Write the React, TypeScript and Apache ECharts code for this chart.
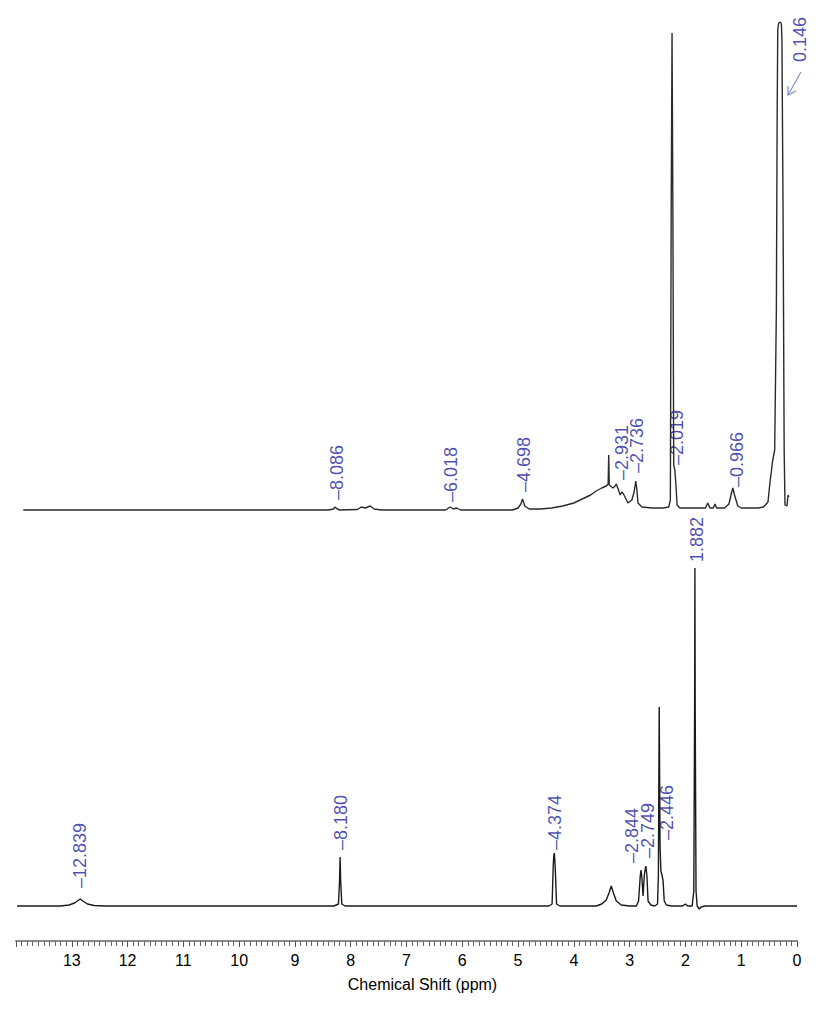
import React, { useEffect, useRef } from "react";
import * as echarts from "echarts";

// ---- Data (ppm, intensity above each spectrum's own baseline) ----
const topSpectrum: number[][] = [
  [13.87, 0], [10.0, 0], [8.4, 0], [8.31, 1], [8.28, 3], [8.24, 1], [8.2, 0],
  [7.88, 0.5], [7.81, 3], [7.74, 2], [7.65, 4], [7.58, 1], [7.45, 0],
  [6.3, 0], [6.22, 3], [6.16, 1], [6.1, 2], [6.03, 0],
  [5.1, 0], [5.0, 2], [4.95, 6], [4.92, 11], [4.88, 4], [4.8, 1],
  [4.6, 1], [4.4, 2], [4.2, 4], [4.0, 7], [3.85, 11], [3.7, 15], [3.6, 19], [3.5, 22],
  [3.42, 24], [3.385, 26], [3.375, 55], [3.365, 25], [3.3, 22], [3.26, 24], [3.24, 26],
  [3.2, 20], [3.17, 15], [3.14, 18], [3.11, 16], [3.03, 7], [2.96, 10], [2.92, 18],
  [2.89, 29], [2.87, 20], [2.85, 7], [2.78, 3], [2.6, 2], [2.4, 2], [2.3, 3],
  [2.27, 10], [2.255, 300], [2.24, 477], [2.225, 300], [2.21, 45], [2.19, 40],
  [2.17, 25], [2.15, 5], [2.1, 2], [1.8, 2], [1.64, 2], [1.6, 7], [1.56, 2],
  [1.5, 2], [1.47, 6], [1.44, 2], [1.3, 2], [1.22, 6], [1.17, 18], [1.15, 22],
  [1.12, 15], [1.06, 4], [1.0, 2], [0.7, 2], [0.6, 3], [0.52, 8], [0.48, 30],
  [0.46, 38], [0.44, 48], [0.4, 60], [0.37, 200], [0.355, 400], [0.345, 480],
  [0.33, 487], [0.3, 488], [0.28, 486], [0.27, 470], [0.25, 300], [0.23, 60], [0.215, 5],
  [0.18, 4], [0.16, 15], [0.145, 13]
];

const bottomSpectrum: number[][] = [
  [13.98, 0], [13.2, 0], [13.05, 1], [12.95, 3], [12.9, 5], [12.85, 7], [12.8, 5],
  [12.72, 2], [12.6, 0.5], [12.4, 0], [8.3, 0], [8.22, 2], [8.2, 25], [8.19, 49],
  [8.18, 25], [8.16, 2], [8.1, 0], [4.45, 0], [4.39, 2], [4.37, 40], [4.36, 50],
  [4.35, 53], [4.335, 40], [4.31, 2], [4.25, 0], [3.6, 0], [3.5, 2], [3.42, 6],
  [3.37, 13], [3.33, 20], [3.29, 13], [3.24, 5], [3.15, 1], [3.0, 0], [2.88, 0],
  [2.84, 5], [2.81, 30], [2.795, 36], [2.78, 28], [2.76, 10], [2.735, 32],
  [2.71, 40], [2.69, 30], [2.67, 5], [2.62, 1], [2.55, 0], [2.5, 2], [2.485, 30],
  [2.47, 199], [2.455, 60], [2.44, 35], [2.42, 31], [2.4, 25], [2.38, 5],
  [2.34, 1], [2.25, 0], [2.05, 0], [2.0, 2], [1.96, 0], [1.88, 0], [1.85, 15],
  [1.835, 200], [1.83, 338], [1.825, 200], [1.81, 15], [1.79, 0], [1.75, -3],
  [1.72, -1], [1.65, 0], [0, 0]
];

// Peak labels: text, x position (ppm), height of label foot above baseline
const topLabelText = ["8.086", "6.018", "4.698", "2.931", "2.736", "2.019", "0.966", "0.146"];
const topLabelX = [8.245, 6.2, 4.893, 3.137, 2.868, 2.151, 1.075, -0.058];
const topLabelY = [10, 8, 18, 30, 37, 45, 23, 448];
const topLabelTick = [true, true, true, true, true, true, true, false];

const bottomLabelText = ["12.839", "8.180", "4.374", "2.844", "2.749", "2.446", "1.882"];
const bottomLabelX = [12.85, 8.173, 4.338, 2.957, 2.671, 2.33, 1.792];
const bottomLabelY = [18, 56, 56, 43, 48, 66, 344];
const bottomLabelTick = [true, true, true, true, true, true, false];

const xTickLabels = ["0", "1", "2", "3", "4", "5", "6", "7", "8", "9", "10", "11", "12", "13"];

const TOP_OFFSET = 431;
const BOTTOM_OFFSET = 35;

const FONT = "'Liberation Sans', Arial, sans-serif";
const LABEL_BLUE = "#1e1e9c";

export default function App() {
  const ref = useRef<HTMLDivElement>(null);

  useEffect(() => {
    if (!ref.current) return;
    const chart = echarts.init(ref.current, undefined, { renderer: "svg" });

    const shift = (arr: number[][], off: number) => arr.map((p) => [p[0], p[1] + off]);
    const labelData = (texts: string[], xs: number[], ys: number[], ticks: boolean[], off: number) =>
      texts.map((t, i) => ({ name: (ticks[i] ? "\u2013" : "") + t, value: [xs[i], ys[i] + off] }));

    chart.setOption({
      animation: false,
      grid: { left: 16, right: 25, top: 0, bottom: 74 },
      xAxis: {
        type: "value",
        min: 0,
        max: 14,
        interval: 1,
        inverse: true,
        axisLine: { show: true, lineStyle: { color: "#8a8a8a", width: 2 } },
        axisTick: { show: true, length: 6, lineStyle: { color: "#555", width: 1 } },
        minorTick: { show: true, splitNumber: 10, length: 5, lineStyle: { color: "#666", width: 1 } },
        splitLine: { show: false },
        axisLabel: {
          fontFamily: FONT,
          fontSize: 16,
          color: "#000",
          margin: 11,
          formatter: (v: number) => (v >= 0 && v < xTickLabels.length ? xTickLabels[v] : ""),
        },
        name: "Chemical Shift (ppm)",
        nameLocation: "middle",
        nameGap: 35,
        nameTextStyle: { fontFamily: FONT, fontSize: 16, color: "#000", padding: [0, 0, 0, 32] },
      },
      yAxis: { type: "value", min: 0, max: 941, show: false },
      series: [
        {
          type: "line",
          data: shift(topSpectrum, TOP_OFFSET),
          showSymbol: false,
          lineStyle: { color: "#2b2b2b", width: 1.4 },
          silent: true,
        },
        {
          type: "line",
          data: shift(bottomSpectrum, BOTTOM_OFFSET),
          showSymbol: false,
          lineStyle: { color: "#1a1a1a", width: 1.4 },
          silent: true,
        },
        {
          type: "scatter",
          clip: false,
          symbolSize: 0,
          silent: true,
          data: [
            ...labelData(topLabelText, topLabelX, topLabelY, topLabelTick, TOP_OFFSET),
            ...labelData(bottomLabelText, bottomLabelX, bottomLabelY, bottomLabelTick, BOTTOM_OFFSET),
          ],
          label: {
            show: true,
            position: [0, 0],
            align: "left",
            verticalAlign: "middle",
            rotate: 90,
            formatter: (p: any) => p.name,
            fontFamily: FONT,
            fontSize: 18,
            color: LABEL_BLUE,
          },
        },
      ],
      graphic: [
        {
          type: "line",
          shape: { x1: 801, y1: 72, x2: 788, y2: 95 },
          style: { stroke: "#7a94c8", lineWidth: 1.2 },
        },
        {
          type: "polyline",
          shape: { points: [[788, 86], [788, 95], [796, 91]] },
          style: { stroke: "#7a94c8", lineWidth: 1.2, fill: "none" },
        },
      ],
    });

    return () => chart.dispose();
  }, []);

  return (
    <div
      ref={ref}
      style={{ position: "fixed", left: 0, top: 0, width: 822, height: 1015, background: "#fff" }}
    />
  );
}
